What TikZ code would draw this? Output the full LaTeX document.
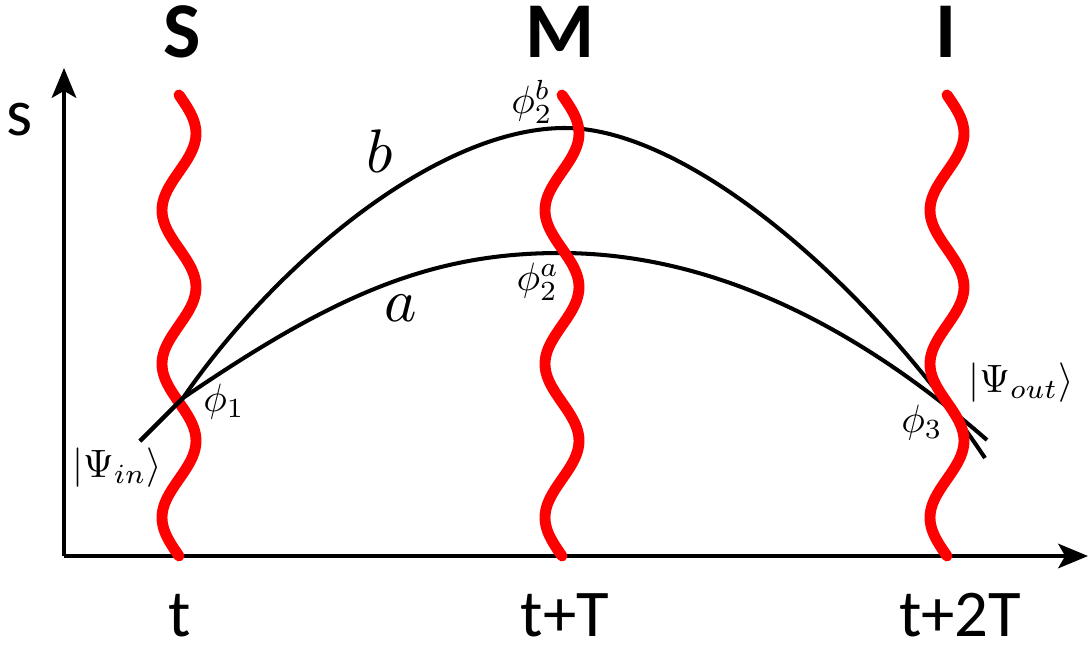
\documentclass[tikz,border=0pt]{standalone}
\usepackage{fontspec}
\setsansfont{Carlito}
\usepackage{tikz}
\usetikzlibrary{arrows.meta}
\definecolor{wavered}{HTML}{FF0000}
\newcommand{\smlab}[1]{\scalebox{2.25}{$#1$}}
\newcommand{\bglab}[1]{\scalebox{3.5}{$#1$}}

\begin{document}
\begin{tikzpicture}[x=0.02cm,y=-0.02cm,
    ax/.style={line width=2pt,-{Stealth[length=17pt,width=14pt,inset=4pt]}},
    curve/.style={line width=2.3pt},
    wave/.style={wavered,line width=6.2pt,line cap=round},
    head/.style={font=\sffamily\bfseries\fontsize{45}{50}\selectfont,anchor=base,inner sep=0pt},
    tick/.style={font=\sffamily\fontsize{38}{44}\selectfont,anchor=base,inner sep=0pt},
    lbl/.style={inner sep=0pt}]
  \useasboundingbox (0,0) rectangle (1090,646);
  \coordinate (O) at (64,556);
  \coordinate (ytip) at (64,68);
  \coordinate (xtip) at (1088,556);
  \draw[ax] (O) -- (ytip);
  \draw[ax] (O) -- (xtip);
  \node[tick] (sax) at (20,135) {s};
  % wave at S sits below the paths
  \draw[wave] plot[domain=95:556,samples=91,smooth,variable=\t]
    ({179+17*sin((\t-95)*2.3427)},\t);
  \coordinate (in) at (140,441);
  \coordinate (phi1) at (183,398);
  \coordinate (topb) at (565,128);
  \coordinate (topa) at (560,253);
  \coordinate (endb) at (985,458);
  \coordinate (enda) at (987,440);
  \draw[curve] (in) -- (phi1) .. controls (273,267) and (435,128) .. (topb)
    .. controls (685,128) and (865,278) .. (endb);
  \draw[curve] (in) -- (phi1) .. controls (333,295.5) and (430,253) .. (topa)
    .. controls (730,253) and (877,344) .. (enda);
  \foreach \cx in {562,947}{
    \draw[wave] plot[domain=95:556,samples=91,smooth,variable=\t]
      ({\cx+17*sin((\t-95)*2.3427)},\t);}
  \foreach \x/\lbl in {182/S,560/M,946/I}{
    \node[head] (h\lbl) at (\x,57) {\lbl};}
  \foreach \x/\lbl/\nm in {180/t/t0,565/t+T/t1,960/t+2T/t2}{
    \node[tick] (\nm) at (\x,636) {\lbl};}
  \node[lbl] (lb) at (380,151) {\bglab{b}};
  \node[lbl] (la) at (401,308) {\bglab{a}};
  \node[lbl] (lphi1) at (224,402) {\smlab{\phi_1}};
  \node[lbl] (lphib) at (532,102) {\smlab{\phi_2^b}};
  \node[lbl] (lphia) at (538,282) {\smlab{\phi_2^a}};
  \node[lbl] (lphi3) at (922,423) {\smlab{\phi_3}};
  \node[lbl] (lin) at (117,468) {\smlab{|\Psi_{in}\rangle}};
  \node[lbl] (lout) at (1021,383) {\smlab{|\Psi_{out}\rangle}};
\end{tikzpicture}
\end{document}
